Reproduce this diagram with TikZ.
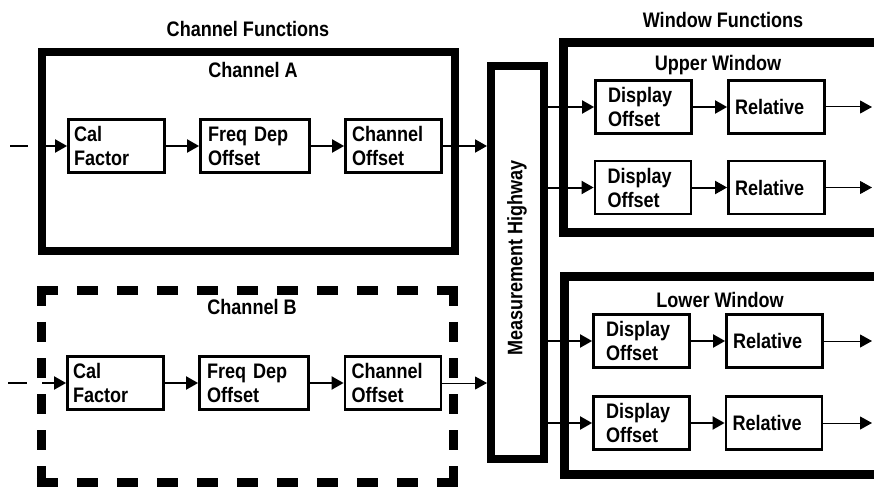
\documentclass[tikz,border=0pt]{standalone}
\usepackage{fontspec}
\setmainfont[FakeStretch=0.86]{Liberation Sans}
\usetikzlibrary{arrows.meta}
\begin{document}
\begin{tikzpicture}[x=1pt,y=-1pt,
  font=\fontsize{21}{24}\selectfont\bfseries,
  fbox/.style 2 args={draw, line width=2.8pt, minimum height=53pt, inner ysep=0pt,
     inner xsep=#2, text width=#1, align=left, anchor=center},
  title/.style={inner sep=0pt, anchor=center},
  conn/.style={line width=2pt, -{Triangle[length=12pt,width=13pt]}},
  thinconn/.style={line width=1pt, -{Triangle[length=12pt,width=13pt]}},
  group/.style={draw, line width=8pt, inner sep=0pt, anchor=center},
  hdash/.style={line width=9pt, dash pattern=on 21pt off 19pt},
  vdash/.style={line width=9pt, dash pattern=on 20pt off 16.1pt}
]
\useasboundingbox (0,0) rectangle (874,489);

% titles
\node[title] (tcf) at (248,29) {Channel Functions};
\node[title] (twf) at (723,20) {Window Functions};

% channel A group
\node[group, minimum width=413pt, minimum height=199pt] (chA) at (248.5,151.5) {};
\node[title] (lA) at (253,70) {Channel A};

% channel B group (dashed, drawn side by side so every corner is solid)
\node[inner sep=0pt, minimum width=412pt, minimum height=191.5pt] (chB) at (247.5,386.3) {};
\coordinate (bTL) at ([shift={(-4.5pt,0pt)}]chB.north west);
\coordinate (bTR) at ([shift={(4.5pt,0pt)}]chB.north east);
\coordinate (bBL) at ([shift={(-4.5pt,0pt)}]chB.south west);
\coordinate (bBR) at ([shift={(4.5pt,0pt)}]chB.south east);
\coordinate (bTL2) at ([shift={(0pt,4.5pt)}]chB.north west);
\coordinate (bBL2) at ([shift={(0pt,-4.5pt)}]chB.south west);
\coordinate (bTR2) at ([shift={(0pt,4.5pt)}]chB.north east);
\coordinate (bBR2) at ([shift={(0pt,-4.5pt)}]chB.south east);
\draw[hdash] (bTL) -- (bTR);
\draw[hdash] (bBL) -- (bBR);
\draw[vdash] (bTL2) -- (bBL2);
\draw[vdash] (bTR2) -- (bBR2);
\node[title] (lB) at (252,307) {Channel B};

% highway
\node[group, minimum width=53pt, minimum height=393pt] (hw) at (517.5,262.5) {};
\node[title, rotate=90] (lhw) at (517,258) {Measurement Highway};

% window groups (open at right edge)
\coordinate (uwTR) at (880,42.5);
\coordinate (uwTL) at (563,42.5);
\coordinate (uwBL) at (563,232.5);
\coordinate (uwBR) at (880,232.5);
\draw[line width=9pt] (uwTR) -- (uwTL) -- (uwBL) -- (uwBR);
\coordinate (lwTR) at (880,276);
\coordinate (lwTL) at (564,276);
\coordinate (lwBL) at (564,474);
\coordinate (lwBR) at (880,474);
\draw[line width=9pt] (lwTR) -- (lwTL) -- (lwBL) -- (lwBR);
\node[title] (luw) at (718,65) {Upper Window};
\node[title] (llw) at (720,300) {Lower Window};

% channel A boxes
\node[fbox={85pt}{5.5pt}] (a1) at (116.5,146) {Cal\\Factor};
\node[fbox={94pt}{7.5pt}] (a2) at (255,146) {Freq Dep\\Offset};
\node[fbox={83pt}{6.5pt}] (a3) at (393.5,146) {Channel\\Offset};
% channel B boxes
\node[fbox={85pt}{5.5pt}] (b1) at (115.5,383) {Cal\\Factor};
\node[fbox={94pt}{7.5pt}] (b2) at (254,383) {Freq Dep\\Offset};
\node[fbox={83pt}{6.5pt}] (b3) at (393,383) {Channel\\Offset};

% window boxes
\node[fbox={71pt}{12.5pt}] (u1) at (643.5,107) {Display\\Offset};
\node[fbox={83pt}{6.5pt}] (u2) at (776.5,107) {Relative};
\node[fbox={71pt}{12.5pt}] (u3) at (643,187.5) {Display\\Offset};
\node[fbox={83pt}{6.5pt}] (u4) at (776.5,187.5) {Relative};
\node[fbox={71pt}{12.5pt}] (l1) at (641.5,341) {Display\\Offset};
\node[fbox={83pt}{6.5pt}] (l2) at (774.5,341) {Relative};
\node[fbox={71pt}{12.5pt}] (l3) at (641.5,423) {Display\\Offset};
\node[fbox={83pt}{6.5pt}] (l4) at (774,423) {Relative};

% inputs
\coordinate (inA0) at (10,146);
\coordinate (inA1) at (28,146);
\coordinate (inA2) at (38,146);
\draw[line width=1.5pt] (inA0) -- (inA1);
\draw[conn] (inA2) -- (a1);
\coordinate (inB0) at (8,383);
\coordinate (inB1) at (27,383);
\coordinate (inB2) at (42,383);
\draw[line width=1.5pt] (inB0) -- (inB1);
\draw[conn] (inB2) -- (b1);

% chain connectors
\draw[conn] (a1) -- (a2);
\draw[conn] (a2) -- (a3);
\draw[conn] (a3.east) -- (hw.west |- a3.east);
\draw[conn] (b1) -- (b2);
\draw[conn] (b2) -- (b3);
\draw[thinconn] (b3.east) -- (hw.west |- b3.east);

\draw[conn] (hw.east |- u1.west) -- (u1);
\draw[conn] (hw.east |- u3.west) -- (u3);
\draw[conn] (hw.east |- l1.west) -- (l1);
\draw[conn] (hw.east |- l3.west) -- (l3);
\draw[conn] (u1) -- (u2);
\draw[conn] (u3) -- (u4);
\draw[conn] (l1) -- (l2);
\draw[conn] (l3) -- (l4);

\coordinate (o1) at (872,107);
\coordinate (o2) at (872,187.5);
\coordinate (o3) at (872,341);
\coordinate (o4) at (872,423);
\draw[thinconn] (u2) -- (o1);
\draw[thinconn] (u4) -- (o2);
\draw[thinconn] (l2) -- (o3);
\draw[thinconn] (l4) -- (o4);
\end{tikzpicture}
\end{document}
